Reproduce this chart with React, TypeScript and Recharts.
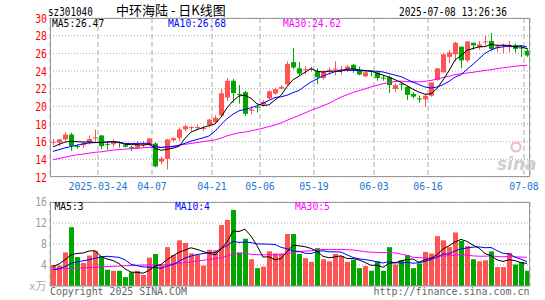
import React from "react";
import { ComposedChart, Bar, Line, XAxis, YAxis, CartesianGrid } from "recharts";

const days = [
  "2025-03-12", "2025-03-13", "2025-03-14", "2025-03-17", "2025-03-18", "2025-03-19", "2025-03-20", "2025-03-21",
  "2025-03-24", "2025-03-25", "2025-03-26", "2025-03-27", "2025-03-28", "2025-03-31", "2025-04-01", "2025-04-02",
  "2025-04-03", "2025-04-07", "2025-04-08", "2025-04-09", "2025-04-10", "2025-04-11", "2025-04-14", "2025-04-15",
  "2025-04-16", "2025-04-17", "2025-04-18", "2025-04-21", "2025-04-22", "2025-04-23", "2025-04-24", "2025-04-25",
  "2025-04-28", "2025-04-29", "2025-04-30", "2025-05-06", "2025-05-07", "2025-05-08", "2025-05-09", "2025-05-12",
  "2025-05-13", "2025-05-14", "2025-05-15", "2025-05-16", "2025-05-19", "2025-05-20", "2025-05-21", "2025-05-22",
  "2025-05-23", "2025-05-26", "2025-05-27", "2025-05-28", "2025-05-29", "2025-05-30", "2025-06-03", "2025-06-04",
  "2025-06-05", "2025-06-06", "2025-06-09", "2025-06-10", "2025-06-11", "2025-06-12", "2025-06-13", "2025-06-16",
  "2025-06-17", "2025-06-18", "2025-06-19", "2025-06-20", "2025-06-23", "2025-06-24", "2025-06-25", "2025-06-26",
  "2025-06-27", "2025-06-30", "2025-07-01", "2025-07-02", "2025-07-03", "2025-07-04", "2025-07-07", "2025-07-08",
];

const openPrice = [
  15.9, 15.89, 16.26, 16.81, 15.5, 15.6, 15.9, 16.4, 16.7, 15.75,
  15.7, 15.95, 15.6, 15.4, 15.26, 15.65, 15.7, 15.8, 13.74, 14.04,
  16.15, 16.43, 17.4, 17.55, 17.55, 17.5, 17.9, 18.2, 18.96, 21.0,
  22.9, 21.4, 21.6, 19.5, 19.95, 20.2, 20.9, 21.45, 22.0, 22.5,
  25.0, 24.3, 24.1, 24.15, 24.0, 23.2, 24.05, 24.15, 24.05, 24.1,
  24.7, 24.0, 23.4, 24.0, 23.85, 23.25, 23.3, 21.97, 22.55, 22.2,
  21.4, 20.9, 20.8, 21.2, 23.0, 23.85, 25.6, 25.9, 26.75, 25.2,
  27.2, 26.7, 27.25, 27.4, 26.65, 26.85, 26.7, 26.95, 26.65, 26.3,
];
const highPrice = [
  16.3, 16.3, 17.07, 17.0, 15.7, 16.0, 16.7, 17.37, 16.75, 15.96,
  16.26, 16.07, 15.7, 15.52, 16.07, 16.07, 16.37, 15.9, 14.33, 16.33,
  16.5, 17.6, 17.9, 17.75, 17.9, 17.75, 18.6, 19.0, 22.0, 23.2,
  23.1, 22.4, 21.8, 20.0, 20.2, 20.7, 21.8, 22.1, 22.4, 25.1,
  26.6, 25.0, 24.5, 24.5, 24.3, 24.1, 24.4, 25.1, 24.6, 24.7,
  24.8, 24.5, 24.1, 24.1, 24.0, 23.5, 23.5, 22.6, 22.7, 22.3,
  21.6, 21.2, 21.4, 22.7, 24.3, 26.0, 26.4, 27.3, 26.8, 27.35,
  27.2, 27.4, 28.0, 28.3, 27.0, 27.1, 27.4, 27.1, 26.9, 26.6,
];
const lowPrice = [
  15.6, 15.52, 16.1, 14.96, 15.2, 15.3, 15.7, 15.9, 15.15, 15.1,
  15.33, 15.33, 15.33, 14.96, 15.15, 15.33, 15.52, 13.1, 13.44, 12.85,
  16.0, 16.1, 17.2, 17.2, 17.4, 17.2, 17.6, 18.0, 18.8, 20.6,
  20.4, 20.3, 18.9, 19.1, 19.3, 20.0, 20.8, 21.3, 21.9, 22.3,
  24.2, 23.5, 23.6, 23.9, 22.5, 23.0, 23.6, 23.5, 23.6, 23.9,
  23.8, 23.5, 23.3, 23.4, 22.9, 22.9, 21.5, 21.6, 21.8, 20.7,
  20.9, 20.4, 19.9, 21.1, 22.9, 23.8, 24.9, 25.1, 24.3, 25.0,
  26.4, 26.4, 26.9, 26.3, 26.2, 26.0, 26.1, 26.1, 25.6, 25.6,
];
const closePrice = [
  16.0, 16.26, 16.81, 15.52, 15.4, 15.8, 16.3, 16.5, 15.5, 15.65,
  16.07, 15.85, 15.42, 15.3, 15.7, 15.75, 16.37, 13.2, 14.1, 16.26,
  16.4, 17.37, 17.75, 17.65, 17.65, 17.55, 18.5, 18.7, 21.48, 22.9,
  21.5, 21.3, 19.15, 19.65, 19.85, 20.5, 21.7, 21.95, 22.2, 24.8,
  24.4, 23.7, 24.2, 24.25, 23.3, 23.96, 24.15, 24.25, 24.15, 24.5,
  24.15, 23.6, 23.85, 23.9, 23.2, 23.15, 22.4, 22.4, 22.45, 21.3,
  21.1, 20.8, 21.2, 22.7, 24.3, 25.9, 26.1, 27.2, 25.2, 27.35,
  26.9, 27.0, 27.35, 26.5, 26.8, 26.95, 26.9, 26.5, 26.55, 25.75,
];
// 成交量, x万
const volume = [
  4.0, 3.9, 6.4, 11.2, 5.5, 4.4, 5.8, 6.7, 5.7, 3.1,
  2.9, 2.9, 1.7, 2.6, 2.9, 2.1, 5.4, 6.1, 4.0, 7.4,
  5.9, 8.7, 8.2, 6.2, 5.9, 3.9, 6.9, 6.8, 11.6, 12.6,
  14.5, 6.4, 9.0, 5.1, 3.4, 3.7, 6.6, 6.2, 6.2, 9.9,
  9.9, 6.1, 5.3, 4.6, 7.2, 5.1, 4.7, 6.1, 5.7, 4.6,
  5.0, 3.4, 3.8, 2.9, 4.7, 2.9, 7.4, 4.1, 4.9, 5.9,
  3.4, 4.3, 6.5, 6.2, 9.5, 8.7, 7.4, 10.2, 8.6, 7.6,
  5.1, 4.7, 4.9, 6.6, 3.6, 3.6, 6.3, 4.1, 4.6, 2.9,
];

// MA values on the first days (history lies left of the chart)
const ma5Start = [15.4, 15.7, 15.95, 16.05];
const ma10Start = [14.9, 15.1, 15.3, 15.45, 15.6, 15.75, 15.85, 15.9, 15.9];
const ma30Start = [
  13.95, 14.1, 14.25, 14.4, 14.5, 14.6, 14.7, 14.8, 14.85, 14.95,
  15.05, 15.1, 15.15, 15.2, 15.25, 15.3, 15.35, 15.35, 15.35, 15.4,
  15.5, 15.6, 15.7, 15.8, 15.9, 16.0, 16.1, 16.2, 16.4,
];
const vma5Start = [3.7, 4.2, 5.0, 5.9];
const vma10Start = [3.1, 3.3, 3.7, 4.3, 4.6, 4.8, 5.0, 5.3, 5.5];
const vma30Start = [
  3.2, 3.25, 3.3, 3.35, 3.4, 3.45, 3.5, 3.55, 3.6, 3.7,
  3.75, 3.8, 3.85, 3.9, 3.95, 4.0, 4.0, 4.0, 4.0, 4.1,
  4.2, 4.3, 4.45, 4.6, 4.75, 4.9, 5.05, 5.2, 5.4,
];

const priceTicks = [12, 14, 16, 18, 20, 22, 24, 26, 28, 30];
const volumeTicks = [0, 4, 8, 12, 16];
const markedDays = [
  "2025-03-24", "2025-04-07", "2025-04-21", "2025-05-06",
  "2025-05-19", "2025-06-03", "2025-06-16", "2025-07-08",
];

const UP = "#ff5454";
const DOWN = "#00a600";
const GRID = "#aaaaaa";
const MONO = "'DejaVu Sans Mono', monospace";

const movingAverage = (values: number[], n: number, start: number[]) =>
  values.map((_, i) => {
    if (i < n - 1) return start[i];
    let s = 0;
    for (let k = i - n + 1; k <= i; k++) s += values[k];
    return s / n;
  });

const ma5 = movingAverage(closePrice, 5, ma5Start);
const ma10 = movingAverage(closePrice, 10, ma10Start);
const ma30 = movingAverage(closePrice, 30, ma30Start);
const vma5 = movingAverage(volume, 5, vma5Start);
const vma10 = movingAverage(volume, 10, vma10Start);
const vma30 = movingAverage(volume, 30, vma30Start);

const rows = days.map((day, i) => ({
  i,
  day,
  open: openPrice[i],
  close: closePrice[i],
  high: highPrice[i],
  low: lowPrice[i],
  range: [lowPrice[i], highPrice[i]],
  up: closePrice[i] >= openPrice[i],
  vol: volume[i],
  ma5: ma5[i],
  ma10: ma10[i],
  ma30: ma30[i],
  vma5: vma5[i],
  vma10: vma10[i],
  vma30: vma30[i],
}));

// date lines sit on the left edge of the day's slot
const tickPos = markedDays.map((d) => days.indexOf(d) - 0.5);
const tickLabel = (v: number) => {
  const d = days[Math.round(v + 0.5)];
  return d === markedDays[0] ? d : d.slice(5);
};
const xDomain = [-0.5, days.length - 0.5];

const Mono = ({ x, y, fill, text, anchor = "start", cw = 5.8, size = 10 }: any) => (
  <text
    x={x}
    y={y}
    fill={fill}
    fontFamily={MONO}
    fontSize={size}
    textAnchor={anchor}
    textLength={text.length * cw}
    lengthAdjust="spacingAndGlyphs"
  >
    {text}
  </text>
);

const Candle = (props: any) => {
  const { x, y, height, payload } = props;
  const { open, close, high, low, up } = payload;
  const color = up ? UP : DOWN;
  const k = high > low ? height / (high - low) : 0;
  const py = (v: number) => y + (high - v) * k;
  const left = Math.floor(x);
  const mid = left + 2.5;
  const top = py(Math.max(open, close));
  const bodyH = Math.max(1, py(Math.min(open, close)) - top);
  return (
    <g>
      <line x1={mid} x2={mid} y1={y} y2={y + height} stroke={color} strokeWidth={1} />
      <rect x={left} y={top} width={5} height={bodyH} fill={color} />
    </g>
  );
};

const VolBar = (props: any) => {
  const { x, y, height, payload } = props;
  return <rect x={Math.floor(x)} y={y} width={5} height={height} fill={payload.up ? UP : DOWN} />;
};

const PriceTick = (props: any) => (
  <Mono x={47} y={props.y + 4.5} fill="#ff0000" text={String(props.payload.value)} anchor="end" size={12} cw={5.9} />
);

const VolTick = (props: any) =>
  props.payload.value === 0 ? null : (
    <Mono x={47} y={props.y + 4} fill="#999999" text={String(props.payload.value)} anchor="end" size={11.5} cw={5.9} />
  );

const DateTick = (props: any) => (
  <Mono x={props.x} y={190} fill="#1a78d0" text={tickLabel(props.payload.value)} anchor="middle" cw={5.9} size={10.5} />
);

const PriceChart = () => (
  <ComposedChart width={545} height={195} data={rows} margin={{ top: 18, right: 15, bottom: 0, left: 0 }}>
    <CartesianGrid vertical={false} stroke={GRID} strokeDasharray="1 2" />
    <CartesianGrid horizontal={false} stroke={GRID} strokeDasharray="5 3" />
    <XAxis
      type="number"
      dataKey="i"
      domain={xDomain}
      ticks={tickPos}
      interval={0}
      height={18}
      axisLine={false}
      tickLine={false}
      tick={<DateTick />}
    />
    <YAxis
      domain={[12, 30]}
      ticks={priceTicks}
      interval={0}
      width={50}
      axisLine={false}
      tickLine={false}
      tick={<PriceTick />}
    />
    <Bar dataKey="range" barSize={5} shape={<Candle />} isAnimationActive={false} />
    <Line type="linear" dataKey="ma30" stroke="#ff00ff" strokeWidth={1} dot={false} isAnimationActive={false} />
    <Line type="linear" dataKey="ma10" stroke="#0000ff" strokeWidth={1} dot={false} isAnimationActive={false} />
    <Line type="linear" dataKey="ma5" stroke="#000000" strokeWidth={1} dot={false} isAnimationActive={false} />
  </ComposedChart>
);

const VolumeChart = () => (
  <ComposedChart width={545} height={95} data={rows} margin={{ top: 7, right: 15, bottom: 0, left: 0 }}>
    <CartesianGrid vertical={false} stroke={GRID} strokeDasharray="1 2" />
    <CartesianGrid horizontal={false} stroke={GRID} strokeDasharray="5 3" />
    <XAxis
      type="number"
      dataKey="i"
      domain={xDomain}
      ticks={tickPos}
      interval={0}
      height={4}
      axisLine={false}
      tickLine={false}
      tick={false}
    />
    <YAxis
      domain={[0, 16]}
      ticks={volumeTicks}
      interval={0}
      width={50}
      axisLine={false}
      tickLine={false}
      tick={<VolTick />}
    />
    <Bar dataKey="vol" barSize={5} shape={<VolBar />} isAnimationActive={false} />
    <Line type="linear" dataKey="vma30" stroke="#ff00ff" strokeWidth={1} dot={false} isAnimationActive={false} />
    <Line type="linear" dataKey="vma10" stroke="#0000ff" strokeWidth={1} dot={false} isAnimationActive={false} />
    <Line type="linear" dataKey="vma5" stroke="#000000" strokeWidth={1} dot={false} isAnimationActive={false} />
  </ComposedChart>
);

const Overlay = () => (
  <svg width={545} height={300} style={{ position: "absolute", left: 0, top: 0, pointerEvents: "none" }}>
    <rect x={50.5} y={18.5} width={479} height={158} fill="none" stroke="#999999" />
    <rect x={50.5} y={202.5} width={479} height={83.5} fill="none" stroke="#999999" />

    <Mono x={48} y={15.5} fill="#000000" text="sz301040" cw={5.6} size={12} />
    <text x={116} y={14.5} fontFamily="'Noto Sans CJK SC', sans-serif" fontSize={13} fill="#000000"
      style={{ whiteSpace: "pre" }}>
      中环海陆 - 日K线图
    </text>
    <Mono x={399} y={15.5} fill="#000000" text="2025-07-08 13:26:36" cw={5.68} size={12} />

    <Mono x={52} y={27} fill="#000000" text="MA5:26.47" />
    <Mono x={168} y={27} fill="#0000ff" text="MA10:26.68" />
    <Mono x={283} y={27} fill="#ff00ff" text="MA30:24.62" />

    <Mono x={54.5} y={210} fill="#000000" text="MA5:3" />
    <Mono x={175} y={210} fill="#0000ff" text="MA10:4" />
    <Mono x={295} y={210} fill="#ff00ff" text="MA30:5" />

    <text x={29} y={290} fontFamily={`${MONO}, 'Noto Sans CJK SC'`} fontSize={11} fill="#aaaaaa">x万</text>

    <text x={497} y={170} fontFamily="'DejaVu Sans', sans-serif" fontStyle="italic" fontWeight="bold"
      fontSize={17} fill="#d0d0d0">
      sina
    </text>
    <circle cx={516} cy={147} r={4.5} fill="none" stroke="#f2b8b8" strokeWidth={2} />

    <Mono x={50} y={295} fill="#666666" text="Copyright 2025 SINA.COM" cw={5.95} />
    <Mono x={529.5} y={295} fill="#666666" text="http://finance.sina.com.cn" anchor="end" cw={6} />
  </svg>
);

const App = () => (
  <div style={{ position: "absolute", left: 0, top: 0, width: 545, height: 300, background: "#ffffff" }}>
    <div style={{ position: "absolute", left: 0, top: 0 }}>
      <PriceChart />
    </div>
    <div style={{ position: "absolute", left: 0, top: 195 }}>
      <VolumeChart />
    </div>
    <Overlay />
  </div>
);

export default App;
